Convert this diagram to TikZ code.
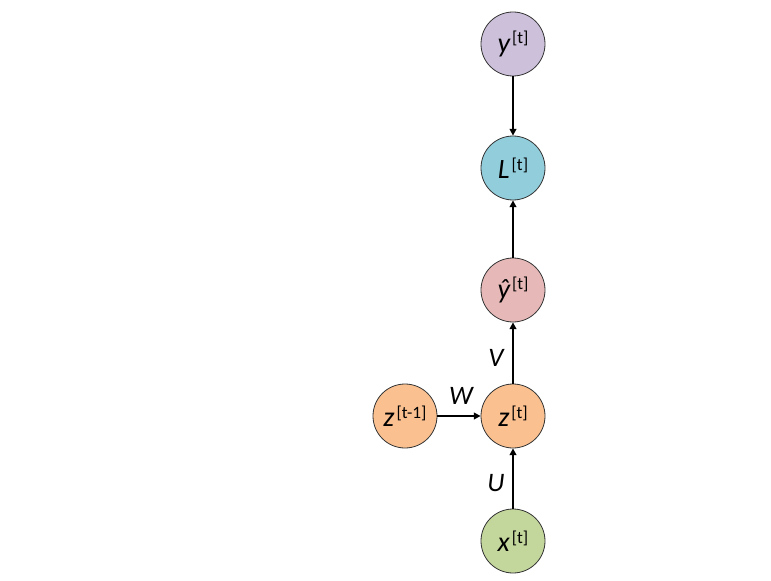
\documentclass[tikz,border=0pt]{standalone}
\usepackage{fontspec}
\setmainfont{Carlito}
\usetikzlibrary{arrows.meta}
\definecolor{cy}{HTML}{CCC0DA}
\definecolor{cL}{HTML}{92CDDC}
\definecolor{cyh}{HTML}{E6B9B8}
\definecolor{cz}{HTML}{FAC090}
\definecolor{cx}{HTML}{C3D69B}
\newcommand{\var}[2]{{\fontsize{21}{24}\selectfont\itshape #1}\kern1.5pt\raisebox{0.62em}{\fontsize{13}{15}\selectfont #2}}
\tikzset{
  nd/.style={circle, draw=black!80, line width=0.6pt, minimum size=48pt, inner sep=0pt},
  arr/.style={-{Triangle[length=5pt,width=5pt]}, line width=1.1pt},
  lbl/.style={font=\fontsize{20}{22}\selectfont\itshape}
}
\begin{document}
\begin{tikzpicture}[x=0.75pt,y=-0.75pt]
\useasboundingbox (0,0) rectangle (771,581);
\node[nd, fill=cy] (y) at (513,44) {\var{y}{[t]}};
\node[nd, fill=cL] (L) at (513,168) {\var{L}{[t]}};
\node[nd, fill=cyh] (yh) at (513,290) {\var{\^{y}}{[t]}};
\node[nd, fill=cz] (z) at (513,416) {\var{z}{[t]}};
\node[nd, fill=cz] (zp) at (405,416) {\var{z}{[t-1]}};
\node[nd, fill=cx] (x) at (513,541) {\var{x}{[t]}};
\draw[arr] (y) -- (L);
\draw[arr] (yh) -- (L);
\draw[arr] (z) -- (yh);
\draw[arr] (zp) -- (z);
\draw[arr] (x) -- (z);
\node[lbl] (V) at (496,358) {V};
\node[lbl] (W) at (461,396) {W};
\node[lbl] (U) at (496,483) {U};
\end{tikzpicture}
\end{document}
